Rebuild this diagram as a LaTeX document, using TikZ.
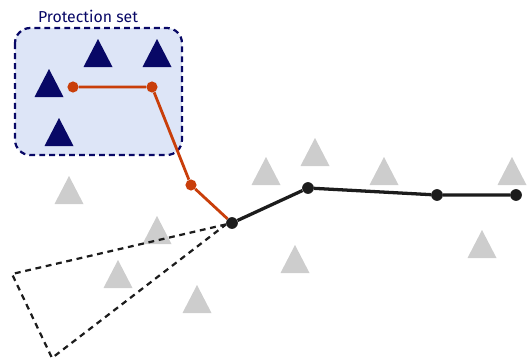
\documentclass[tikz,border=0pt]{standalone}
\usepackage{fontspec}
\setmainfont{Fira Sans}
\usepackage{tikz}
\usetikzlibrary{arrows.meta,positioning,calc}
\definecolor{navy}{RGB}{8,8,102}
\definecolor{zone}{RGB}{221,229,247}
\definecolor{route}{RGB}{201,62,10}
\definecolor{pathk}{RGB}{28,28,28}
\definecolor{obst}{RGB}{205,205,205}
\tikzset{zonebox/.style={draw=navy,dashed,dash pattern=on 5pt off 3.5pt,line width=1.9pt,fill=zone,rounded corners=13pt},rdot/.style={circle,fill=route,inner sep=0pt,minimum size=9.5pt},kdot/.style={circle,fill=pathk,inner sep=0pt,minimum size=10pt},rline/.style={draw=route,line width=2.4pt},kline/.style={draw=pathk,line width=2.8pt},cone/.style={draw=pathk,dashed,dash pattern=on 5pt off 4pt,line width=1.9pt},prot/.style={fill=navy},free/.style={fill=obst}}

\begin{document}
\begin{tikzpicture}[x=0.03cm,y=-0.03cm]
\useasboundingbox (0,0) rectangle (527,362);
% protection set
\draw[zonebox] (15,28) rectangle (182,155);
\node[text=navy,font=\fontsize{13.5}{15}\selectfont] (title) at (88,16) {Protection set};
\foreach \x/\y in {98/67,157/67,49/97,59/146}
  \fill[prot] (\x-14.5,\y) -- (\x,\y-28) -- (\x+14.5,\y) -- cycle;
% obstacles outside
\foreach \x/\y in {69/204,157/244,118/288,197/313,266/185,315/166,384/185,512/185,482/258,295/273}
  \fill[free] (\x-14.5,\y) -- (\x,\y-28) -- (\x+14.5,\y) -- cycle;
% path nodes
\node[kdot] (k1) at (232,223) {};
\node[kdot] (k2) at (308,188) {};
\node[kdot] (k3) at (437,195) {};
\node[kdot] (k4) at (516,195) {};
\node[rdot] (r1) at (73,87) {};
\node[rdot] (r2) at (152,87) {};
\node[rdot] (r3) at (191,185) {};
\coordinate (c1) at (12,274);
\coordinate (c2) at (52,358);
% view cone
\draw[cone] (k1) -- (c1) -- (c2) -- cycle;
\draw[rline] (r1) -- (r2) -- (r3) -- (k1);
\draw[kline] (k1) -- (k2) -- (k3) -- (k4);
\end{tikzpicture}
\end{document}
